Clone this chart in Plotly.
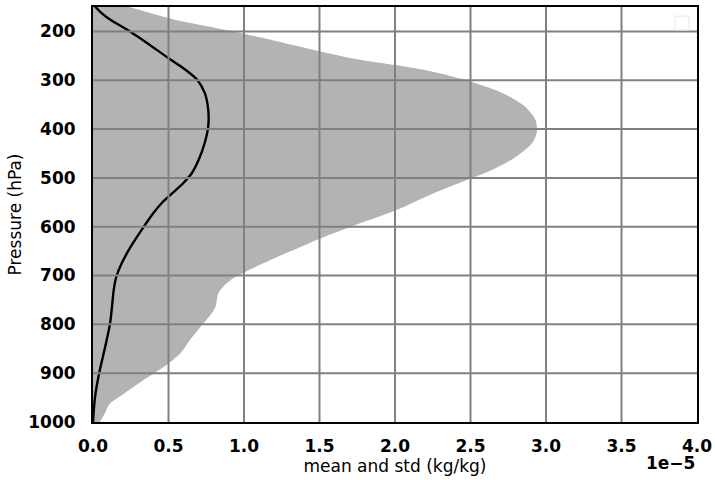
import plotly.graph_objects as go

# std envelope (right edge of gray area), x in units of 1e-5 kg/kg
std_p = [149, 175, 200, 223, 244, 257, 278, 299, 326, 354, 381, 405, 428, 457, 484, 504, 531, 566, 601, 627, 642,
         662, 700, 716, 737, 765, 782, 806, 833, 860, 888, 915, 943, 963, 981, 1000]
std_x = [0.23, 0.53, 0.93, 1.26, 1.55, 1.75, 2.18, 2.46, 2.71, 2.86, 2.93, 2.94, 2.91, 2.80, 2.64, 2.48, 2.26, 2.01, 1.70, 1.48, 1.37,
         1.22, 0.96, 0.885, 0.83, 0.81, 0.775, 0.71, 0.64, 0.576, 0.465, 0.33, 0.20, 0.11, 0.08, 0.046]

# mean profile
mean_p = [149, 162, 175, 200, 223, 257, 278, 299, 326, 360, 395, 428, 463, 490, 510, 530, 550, 572, 603, 641, 675, 703, 730, 751,
          798, 847, 901, 950, 1000]
mean_x = [0.013, 0.055, 0.11, 0.245, 0.355, 0.51, 0.61, 0.69, 0.74, 0.763, 0.763, 0.74, 0.70, 0.655, 0.60, 0.53, 0.46, 0.40, 0.33,
          0.25, 0.19, 0.154, 0.137, 0.13, 0.113, 0.08, 0.04, 0.013, 0.0]

scale = 1e-5
x_ticks = [0.0, 0.5, 1.0, 1.5, 2.0, 2.5, 3.0, 3.5, 4.0]
x_ticklabels = ["0.0", "0.5", "1.0", "1.5", "2.0", "2.5", "3.0", "3.5", "4.0"]
y_ticks = [200, 300, 400, 500, 600, 700, 800, 900, 1000]
x_range = [0, 4.0]
y_range = [1000, 150]

fig = go.Figure()
fig.add_trace(go.Scatter(x=[v * scale for v in std_x], y=std_p, mode="lines", fill="tozerox",
                         fillcolor="#b3b3b3", line=dict(width=0, color="#b3b3b3", shape="spline", smoothing=0.8),
                         showlegend=False, hoverinfo="skip"))
fig.add_trace(go.Scatter(x=[v * scale for v in mean_x], y=mean_p, mode="lines",
                         line=dict(color="black", width=2.4, shape="spline", smoothing=0.8), showlegend=False))

shapes = []
for t in x_ticks[1:-1]:
    shapes.append(dict(type="line", xref="x", yref="paper", x0=t * scale, x1=t * scale, y0=0, y1=1,
                       line=dict(color="#808080", width=2), layer="above"))
for t in y_ticks[:-1]:
    shapes.append(dict(type="line", xref="paper", yref="y", x0=0, x1=1, y0=t, y1=t,
                       line=dict(color="#808080", width=2), layer="above"))
# empty legend frame
shapes.append(dict(type="rect", xref="paper", yref="paper", x0=0.9636, x1=0.9868, y0=0.9446, y1=0.978,
                   line=dict(color="#e6e6e6", width=1), fillcolor="rgba(255,255,255,0.8)", layer="above"))

tickfont = dict(size=17, family="DejaVu Sans", weight="bold", color="black")
fig.update_layout(
    width=715, height=480,
    margin=dict(l=93, r=18, t=7, b=58),
    plot_bgcolor="white", paper_bgcolor="white",
    font=dict(family="DejaVu Sans", color="black"),
    shapes=shapes,
    xaxis=dict(range=[x_range[0] * scale, x_range[1] * scale],
               tickvals=[t * scale for t in x_ticks], ticktext=x_ticklabels, tickfont=tickfont,
               showgrid=False, zeroline=False, showline=True, linecolor="black", linewidth=2, mirror=True,
               ticks="", ticklabelstandoff=8, automargin=False,
               title=dict(text="mean and std (kg/kg)", font=dict(size=17), standoff=0)),
    yaxis=dict(range=y_range, tickvals=y_ticks, ticktext=[str(v) for v in y_ticks], tickfont=tickfont,
               showgrid=False, zeroline=False, showline=True, linecolor="black", linewidth=2, mirror=True,
               ticks="", ticklabelstandoff=12, automargin=False,
               title=dict(text="Pressure (hPa)", font=dict(size=17), standoff=2)),
    annotations=[dict(text="<b>1e\u22125</b>", xref="paper", yref="paper", x=1.0, y=0, yshift=-41,
                      xanchor="right", yanchor="middle", showarrow=False, font=dict(size=17))],
)
fig.write_html("out.html", config={"displayModeBar": False},
               post_script="document.body.style.margin='0px';document.body.style.padding='0px';")
